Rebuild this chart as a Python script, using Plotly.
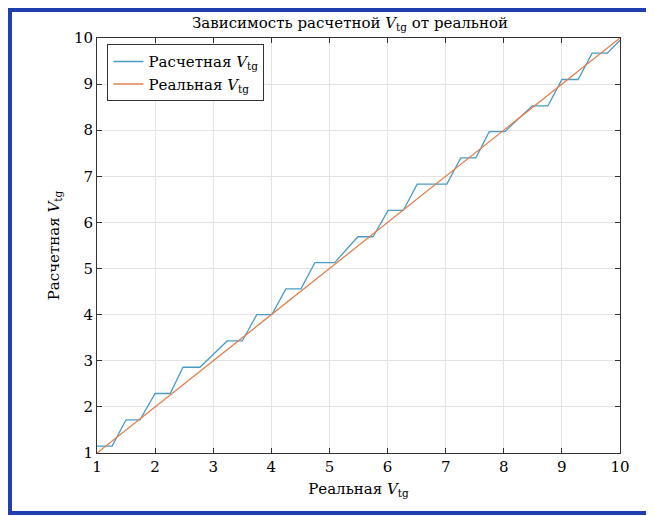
import plotly.graph_objects as go

# calculated (staircase) curve
calc_x = [1.0, 1.26, 1.5, 1.74, 2.0, 2.26, 2.48, 2.77, 3.24, 3.5, 3.75, 4.01, 4.25, 4.51,
          4.75, 5.09, 5.49, 5.75, 6.01, 6.27, 6.51, 7.02, 7.26, 7.52, 7.75, 8.02, 8.49,
          8.76, 9.0, 9.28, 9.52, 9.78, 10.0]
calc_y = [1.15, 1.15, 1.72, 1.72, 2.29, 2.29, 2.86, 2.86, 3.43, 3.43, 4.0, 4.0, 4.56, 4.56,
          5.13, 5.13, 5.69, 5.69, 6.26, 6.26, 6.83, 6.83, 7.4, 7.4, 7.97, 7.97, 8.53,
          8.53, 9.1, 9.1, 9.67, 9.67, 9.95]
real_x = [1, 10]
real_y = [1, 10]
ticks = [1, 2, 3, 4, 5, 6, 7, 8, 9, 10]

font = dict(family="DejaVu Serif", size=15, color="black")

fig = go.Figure()
fig.add_trace(go.Scatter(x=calc_x, y=calc_y, mode="lines", name="Расчетная <i>V</i><sub>tg</sub>",
                         line=dict(color="#4a9cc4", width=1.3)))
fig.add_trace(go.Scatter(x=real_x, y=real_y, mode="lines", name="Реальная <i>V</i><sub>tg</sub>",
                         line=dict(color="#e0804f", width=1.3)))

axis = dict(range=[1, 10], tickvals=ticks, showgrid=True, gridcolor="#e3e3e3", zeroline=False,
            showline=True, linecolor="#333", mirror="ticks", ticks="inside", ticklen=5,
            tickcolor="#333", tickfont=font)
fig.update_xaxes(**axis, title=dict(text="Реальная <i>V</i><sub>tg</sub>", font=font, standoff=8))
fig.update_yaxes(**axis, title=dict(text="Расчетная <i>V</i><sub>tg</sub>", font=font, standoff=10))

fig.update_layout(
    width=654, height=516,
    margin=dict(l=89, r=42, t=30, b=71),
    paper_bgcolor="white", plot_bgcolor="white",
    title=dict(text="Зависимость расчетной <i>V</i><sub>tg</sub> от реальной", font=font,
               x=(350 - 8) / 654, xanchor="center", y=0.972, yanchor="middle"),
    legend=dict(x=0.02, y=0.985, xanchor="left", yanchor="top", font=font,
                bordercolor="#333", borderwidth=1, bgcolor="white", tracegroupgap=0),
    showlegend=True,
    shapes=[dict(type="rect", xref="paper", yref="paper",
                 x0=-87 / 523, x1=(640 - 89) / 523, y0=-60 / 415, y1=1 + 28 / 415,
                 line=dict(color="#1f3fb0", width=4))],
)

fig.write_html("out.html")
